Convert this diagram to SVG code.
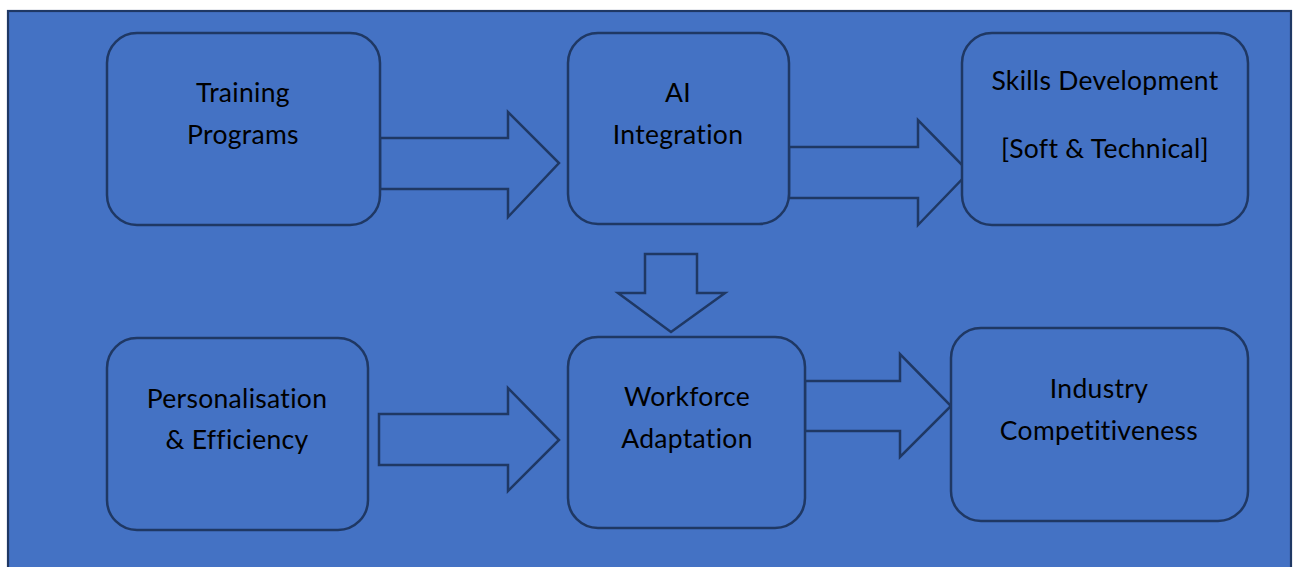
<svg xmlns="http://www.w3.org/2000/svg" width="1296" height="567" viewBox="0 0 1296 567">
  <style>
    .frame { fill: #4472C4; stroke: #1F3864; stroke-width: 2.2; }
    .node rect { fill: #4472C4; stroke: #1F3864; stroke-width: 2.5; }
    .node text { font-family: Lato, "Open Sans", sans-serif; font-size: 26.5px; letter-spacing: 0.3px; fill: #000; text-anchor: middle; }
    .arrow { fill: #4472C4; stroke: #1F3864; stroke-width: 2.5; stroke-linejoin: miter; }
  </style>
  <rect width="1296" height="567" fill="#ffffff"/>
  <rect class="frame" x="8" y="11" width="1283" height="570"/>

  <g id="connectors">
    <path class="arrow" d="M380 138 H508 V112 L559 163 L508 217 V189 H380 Z"/>
    <path class="arrow" d="M789 147 H918 V120 L969 172 L918 225 V198 H789 Z"/>
    <path class="arrow" d="M645 254 H697 V293 H725 L671 332 L618 293 H645 Z"/>
    <path class="arrow" d="M379 414 H508 V388 L559 440 L508 491 V465 H379 Z"/>
    <path class="arrow" d="M805 381 H900 V354 L951 406 L900 457 V431 H805 Z"/>
  </g>

  <g id="training-programs" class="node">
    <rect x="107" y="33" width="273" height="192" rx="30"/>
    <text x="243" y="102">Training</text>
    <text x="243" y="144">Programs</text>
  </g>
  <g id="ai-integration" class="node">
    <rect x="568" y="33" width="221" height="191" rx="30"/>
    <text x="678" y="102">AI</text>
    <text x="678" y="144">Integration</text>
  </g>
  <g id="skills-development" class="node">
    <rect x="962" y="33" width="286" height="192" rx="30"/>
    <text x="1105" y="90">Skills Development</text>
    <text x="1105" y="158">[Soft &amp; Technical]</text>
  </g>
  <g id="personalisation-efficiency" class="node">
    <rect x="107" y="338" width="261" height="192" rx="30"/>
    <text x="237" y="408">Personalisation</text>
    <text x="237" y="449">&amp; Efficiency</text>
  </g>
  <g id="workforce-adaptation" class="node">
    <rect x="568" y="337" width="237" height="191" rx="30"/>
    <text x="687" y="406">Workforce</text>
    <text x="687" y="448">Adaptation</text>
  </g>
  <g id="industry-competitiveness" class="node">
    <rect x="951" y="328" width="297" height="193" rx="30"/>
    <text x="1099" y="398">Industry</text>
    <text x="1099" y="440">Competitiveness</text>
  </g>
</svg>
